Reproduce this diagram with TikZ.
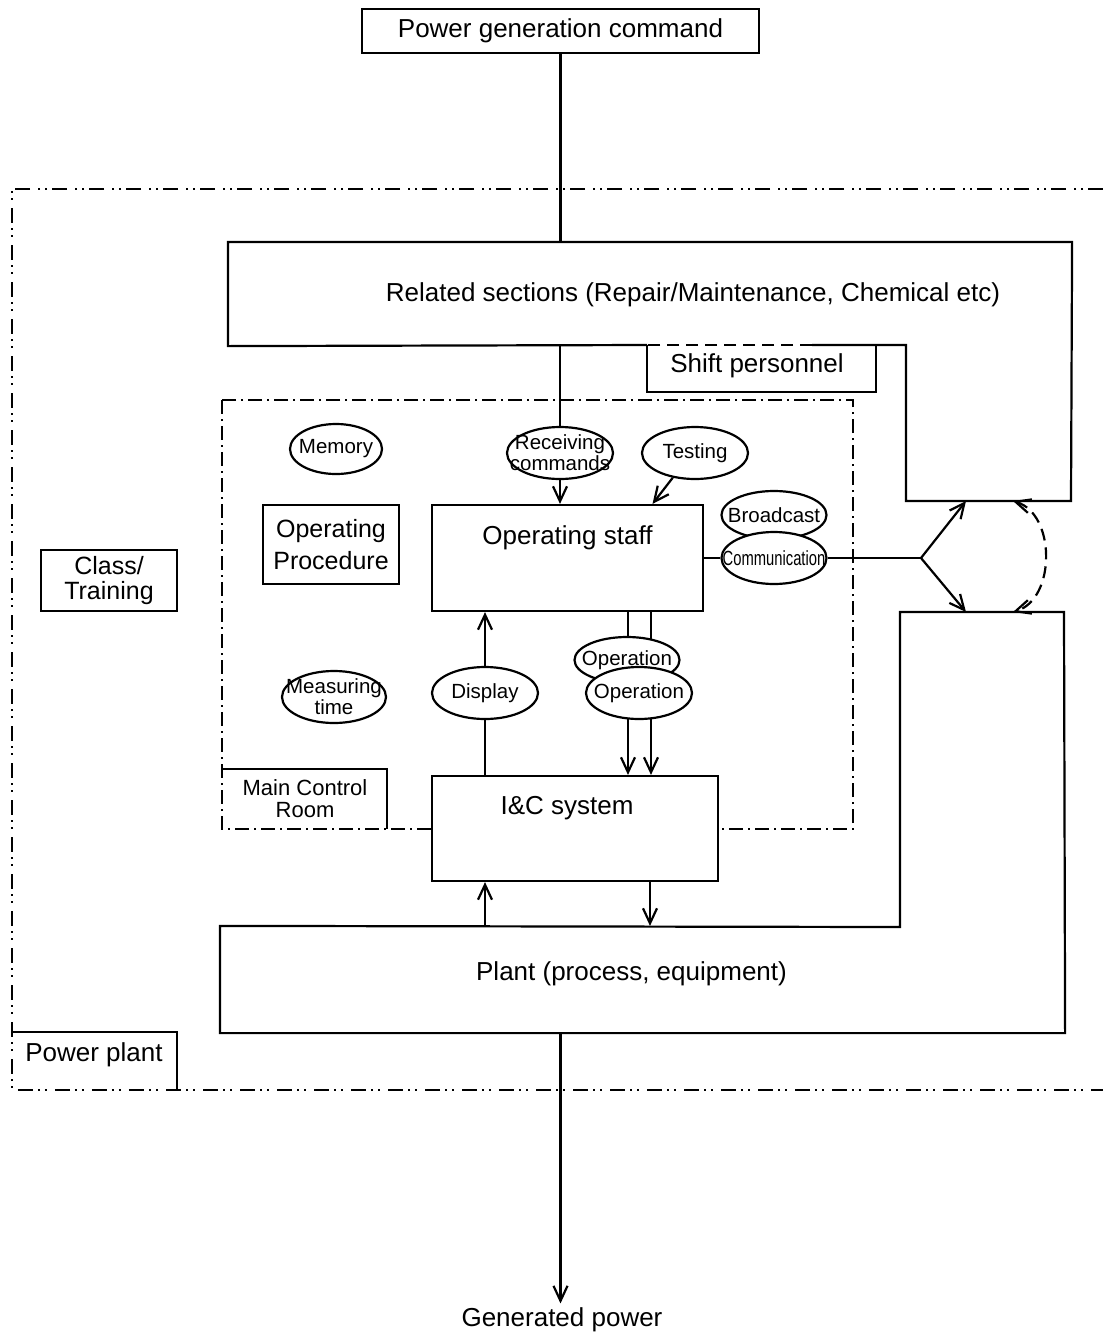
\documentclass[tikz,border=0pt]{standalone}
\usepackage{fontspec}
\setmainfont{Liberation Sans}
\usepackage{graphicx}
\usetikzlibrary{arrows.meta,shapes.geometric}

\begin{document}
\begin{tikzpicture}[x=1pt,y=-1pt,>={Straight Barb[length=15pt,width=14pt]},line width=2.2pt,
    big/.style={font=\fontsize{26}{30}\selectfont},
    box/.style={draw,rectangle,inner sep=0pt,big},
    area/.style={rectangle,inner sep=0pt},
    bubble/.style={ellipse,draw,fill=white,inner sep=0pt,minimum width=106pt,minimum height=52pt},
    bubtxt/.style={font=\fontsize{20.5}{21}\selectfont,align=center,inner sep=0pt},
    plantline/.style={line width=1.6pt,dash pattern=on 15pt off 5pt on 2pt off 5pt on 2pt off 8pt},
    roomline/.style={line width=1.6pt,dash pattern=on 14pt off 5pt on 2pt off 5pt},
    dashline/.style={dash pattern=on 12pt off 7pt}]

    \useasboundingbox (0,0) rectangle (1103,1334);

    % power plant and main control room
    \draw[plantline] (1103,189) -- (12,189) -- (12,1090) -- (1103,1090);
    \draw[roomline] (222,400) rectangle (853,829);
    \node[big] (pplabel) at (94,1055) {Power plant};
    \draw (12,1032) -| (177,1090);
    \node[font=\fontsize{22}{22}\selectfont,align=center] (mcrlabel) at (305,799) {Main Control\\Room};
    \draw (222,769) -| (387,829);

    \node[box,minimum width=397pt,minimum height=44pt] (cmd) at (560.5,31) {Power generation command};
    \node[box,minimum width=136pt,minimum height=61pt,align=center,font=\fontsize{25}{25}\selectfont] (training) at (109,580.5) {Class/\\Training};

    % related sections
    \node[area,minimum width=842pt,minimum height=102pt,
        label={[big,xshift=43pt,yshift=-1pt]center:Related sections (Repair/Maintenance, Chemical etc)}] (related) at (650,294) {};
    \draw (647,345) -- (related.south west) -- (related.north west) -- (related.north east)
        -- (1071,501) -- (906,501) -- (906,345) -- (812,345);
    \draw[dashline] (812,345) -- (647,345);
    \node[big] (shift) at (757,366) {Shift personnel};
    \draw (647,345) |- (876,392) -- (876,345);

    % plant
    \node[area,minimum width=843pt,minimum height=105pt,
        label={[big,xshift=-11pt,yshift=6pt]center:Plant (process, equipment)}] (plant) at (642.5,979.5) {};
    \draw (plant.south west) -- (plant.north west) -- (900,927) -- (900,612) -- (1064,612) -- (plant.south east) -- cycle;

    \node[box,fill=white,minimum width=286pt,minimum height=105pt,
        label={[big,xshift=-8pt,yshift=20pt]center:I\&C system}] (ic) at (575,828.5) {};
    \node[box,minimum width=271pt,minimum height=106pt,
        label={[big,yshift=20pt]center:Operating staff}] (staff) at (567.5,558) {};
    \node[box,minimum width=136pt,minimum height=79pt,align=center,font=\fontsize{25}{32}\selectfont] (procedure) at (331,544.5) {Operating\\Procedure};
    \node[big] (output) at (562,1320) {Generated power};

    % operation lines go behind the bubbles
    \draw[->] ([xshift=60.5pt]staff.south) -- ([xshift=60.5pt]staff.south |- ic.north);
    \draw[->] ([xshift=83.5pt]staff.south) -- ([xshift=83.5pt]staff.south |- ic.north);

    \node[bubble,minimum width=92pt,minimum height=50pt,label={[bubtxt]center:Memory}] (memory) at (336,449) {};
    \node[bubble,label={[bubtxt]center:Receiving\\commands}] (receive) at (560,453) {};
    \node[bubble,label={[bubtxt]center:Testing}] (testing) at (695,453) {};
    \node[bubble,minimum width=104pt,label={[bubtxt]center:Measuring\\time}] (measure) at (334,697) {};
    \node[bubble,label={[bubtxt]center:Display}] (display) at (485,693) {};
    \node[bubble,minimum width=105pt,minimum height=46pt,label={[bubtxt]center:Operation}] (operate) at (627,660) {};
    \node[bubble,label={[bubtxt]center:Operation}] (operate2) at (639,693) {};
    \node[bubble,minimum width=105pt,minimum height=48pt,label={[bubtxt]center:Broadcast}] (broadcast) at (774,515) {};
    \node[bubble,minimum width=105pt,label={[bubtxt]center:\scalebox{0.72}[1]{Communication}}] (comm) at (774,558) {};

    \coordinate (fork) at (921,558);
    \coordinate (relin) at (966,501);
    \coordinate (plantin) at (966,612);
    \coordinate (relback) at (1013,501);
    \coordinate (plantback) at (1013,612);

    \draw (cmd.south) -- (cmd.south |- related.north);
    \draw (receive.north |- related.south) -- (receive.north);
    \draw[->] (receive.south) -- (receive.south |- staff.north);
    \draw[->] (testing.-132) -- ([xshift=85pt]staff.north);
    \draw (display.south) -- (display.south |- ic.north);
    \draw[->] (display.north) -- (display.north |- staff.south);
    \draw (staff.east) -- (comm.west);
    \draw (comm.east) -- (fork);
    \draw[->] (fork) -- (relin);
    \draw[->] (fork) -- (plantin);
    \draw[<->,dashline] (relback) .. controls (1056,514) and (1056,599) .. (plantback);
    \draw[->] (display |- plant.north) -- (display |- ic.south);
    \draw[->] ([xshift=75pt]ic.south) -- ([xshift=75pt]ic.south |- plant.north);
    \draw[->] (cmd.south |- plant.south) -- (cmd.south |- output.north);
\end{tikzpicture}
\end{document}
